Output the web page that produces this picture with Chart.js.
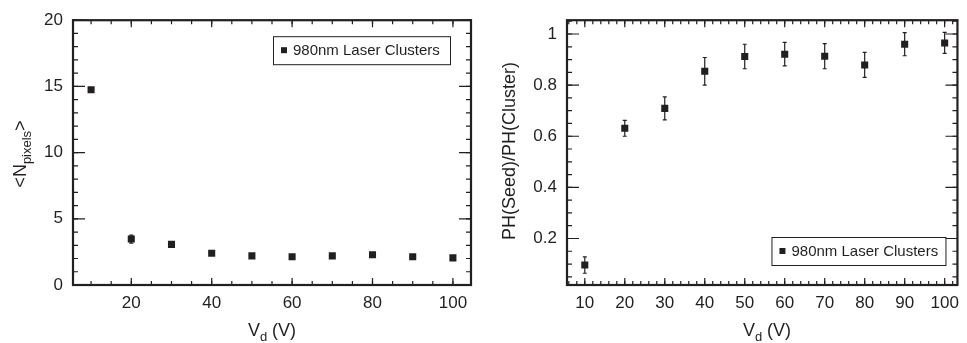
<!DOCTYPE html>
<html>
<head>
<meta charset="utf-8">
<script src="https://cdn.jsdelivr.net/npm/chart.js@4.4.1/dist/chart.umd.min.js"></script>
<style>
    body { margin: 0; background: #fff; }
    #wrap { position: relative; width: 967px; height: 343px; }
    #left-box { position: absolute; left: 0; top: 0; }
    #right-box { position: absolute; left: 480px; top: 0; }
</style>
</head>
<body>
<div id="wrap">
    <div id="left-box"><canvas id="left-chart" width="480" height="343"></canvas></div>
    <div id="right-box"><canvas id="right-chart" width="487" height="343"></canvas></div>
</div>
<script>
// data
const voltages = [10, 20, 30, 40, 50, 60, 70, 80, 90, 100];
const nPixels = [14.75, 3.47, 3.07, 2.4, 2.2, 2.13, 2.2, 2.28, 2.13, 2.05];
const nPixelsErr = [0, 0.3, 0, 0, 0, 0, 0, 0, 0, 0];
const phRatio = [0.096, 0.631, 0.709, 0.854, 0.912, 0.921, 0.913, 0.879, 0.960, 0.965];
const phRatioErr = [0.032, 0.031, 0.045, 0.054, 0.048, 0.046, 0.049, 0.049, 0.045, 0.041];
const leftXTicks = [20, 40, 60, 80, 100];
const leftYTicks = [0, 5, 10, 15, 20];
const rightXTicks = [10, 20, 30, 40, 50, 60, 70, 80, 90, 100];
const rightYTicks = [0.2, 0.4, 0.6, 0.8, 1];
const seriesLabel = '980nm Laser Clusters';

const ink = '#231f20';
const fontFamily = '"Liberation Sans", Arial, sans-serif';

// box around the plot plus inward major/minor ticks on all four sides
const frameTicks = {
    id: 'frameTicks',
    afterDraw(chart, args, o) {
        const { ctx, chartArea: a, scales: { x, y } } = chart;
        ctx.save();
        ctx.strokeStyle = ink;
        ctx.lineWidth = 1.2;
        const minorVals = (scale, step) => {
            const out = [];
            for (let i = Math.ceil(scale.min / step - 1e-9); i * step <= scale.max + 1e-9; i++) out.push(i * step);
            return out;
        };
        const xTick = (v, len) => {
            const px = x.getPixelForValue(v);
            ctx.beginPath();
            ctx.moveTo(px, a.bottom); ctx.lineTo(px, a.bottom - len);
            ctx.moveTo(px, a.top); ctx.lineTo(px, a.top + len);
            ctx.stroke();
        };
        const yTick = (v, len) => {
            const py = y.getPixelForValue(v);
            ctx.beginPath();
            ctx.moveTo(a.left, py); ctx.lineTo(a.left + len, py);
            ctx.moveTo(a.right, py); ctx.lineTo(a.right - len, py);
            ctx.stroke();
        };
        minorVals(x, o.xMinor).forEach(v => xTick(v, o.xMinorLen));
        minorVals(y, o.yMinor).forEach(v => yTick(v, o.yMinorLen));
        x.ticks.forEach(t => xTick(t.value, o.xMajorLen));
        y.ticks.forEach(t => yTick(t.value, o.yMajorLen));
        ctx.lineWidth = 2.2;
        ctx.strokeRect(a.left, a.top, a.right - a.left, a.bottom - a.top);
        ctx.restore();
    }
};

// vertical error bars with small caps
const errorBars = {
    id: 'errorBars',
    beforeDatasetsDraw(chart, args, o) {
        const { ctx, scales: { x, y } } = chart;
        const ds = chart.data.datasets[0];
        ctx.save();
        ctx.strokeStyle = ink;
        ctx.lineWidth = 1.2;
        ds.data.forEach((p, i) => {
            const e = o.errors[i];
            if (!e) return;
            const px = x.getPixelForValue(p.x);
            const top = y.getPixelForValue(p.y + e);
            const bot = y.getPixelForValue(p.y - e);
            ctx.beginPath();
            ctx.moveTo(px, top); ctx.lineTo(px, bot);
            ctx.moveTo(px - 2, top); ctx.lineTo(px + 2, top);
            ctx.moveTo(px - 2, bot); ctx.lineTo(px + 2, bot);
            ctx.stroke();
        });
        ctx.restore();
    }
};

// text with a subscript part, optionally rotated
function drawSubText(ctx, parts, cx, cy, rotate) {
    ctx.save();
    ctx.translate(cx, cy);
    if (rotate) ctx.rotate(-Math.PI / 2);
    ctx.fillStyle = ink;
    ctx.textBaseline = 'alphabetic';
    const mainFont = '18px ' + fontFamily;
    const subFont = '13px ' + fontFamily;
    let total = 0;
    parts.forEach(p => {
        ctx.font = p.sub ? subFont : mainFont;
        total += ctx.measureText(p.t).width;
    });
    let cur = -total / 2;
    parts.forEach(p => {
        ctx.font = p.sub ? subFont : mainFont;
        ctx.fillText(p.t, cur, p.sub ? 5 : 0);
        cur += ctx.measureText(p.t).width;
    });
    ctx.restore();
}

const axisTitles = {
    id: 'axisTitles',
    afterDraw(chart, args, o) {
        const ctx = chart.ctx;
        drawSubText(ctx, o.x.parts, o.x.cx, o.x.cy, false);
        drawSubText(ctx, o.y.parts, o.y.cx, o.y.cy, true);
    }
};

// legend box inside the plot
const boxLegend = {
    id: 'boxLegend',
    afterDraw(chart, args, o) {
        const { ctx, chartArea: a } = chart;
        const left = a.right - o.right - o.width;
        const top = o.top != null ? a.top + o.top : a.bottom - o.bottom - o.height;
        ctx.save();
        ctx.fillStyle = '#fff';
        ctx.fillRect(left, top, o.width, o.height);
        ctx.strokeStyle = ink;
        ctx.lineWidth = 1;
        ctx.strokeRect(left + 0.5, top + 0.5, o.width, o.height);
        ctx.fillStyle = ink;
        const cy = top + o.height / 2;
        ctx.fillRect(left + 8, cy - 3, 6, 6);
        ctx.font = '15px ' + fontFamily;
        ctx.textBaseline = 'middle';
        ctx.fillText(chart.data.datasets[0].label, left + 20, cy + 1);
        ctx.restore();
    }
};

function makeChart(id, ys, errs, cfg) {
    const tickFont = { family: fontFamily, size: 17 };
    return new Chart(document.getElementById(id), {
        type: 'scatter',
        data: {
            datasets: [{
                label: seriesLabel,
                data: voltages.map((v, i) => ({ x: v, y: ys[i] })),
                pointStyle: 'rect',
                pointRadius: 5,
                backgroundColor: ink,
                borderWidth: 0
            }]
        },
        options: {
            responsive: false,
            animation: false,
            layout: { padding: { top: 16, right: cfg.padRight, left: 0, bottom: 0 } },
            plugins: {
                legend: { display: false },
                tooltip: { enabled: false },
                frameTicks: cfg.frame,
                errorBars: { errors: errs },
                axisTitles: cfg.titles,
                boxLegend: cfg.legend
            },
            scales: {
                x: {
                    type: 'linear',
                    min: cfg.xMin, max: cfg.xMax,
                    grid: { display: false, drawTicks: false },
                    border: { display: false },
                    ticks: { font: tickFont, color: ink, padding: 8, autoSkip: false, maxRotation: 0,
                             callback: v => String(v) },
                    afterBuildTicks: s => { s.ticks = cfg.xTicks.map(v => ({ value: v })); },
                    afterFit: s => { s.height = 58; }
                },
                y: {
                    type: 'linear',
                    min: cfg.yMin, max: cfg.yMax,
                    grid: { display: false, drawTicks: false },
                    border: { display: false },
                    ticks: { font: tickFont, color: ink, padding: 10, autoSkip: false,
                             callback: v => String(v) },
                    afterBuildTicks: s => { s.ticks = cfg.yTicks.map(v => ({ value: v })); },
                    afterFit: s => { s.width = cfg.yWidth; }
                }
            }
        },
        plugins: [errorBars, frameTicks, axisTitles, boxLegend]
    });
}

makeChart('left-chart', nPixels, nPixelsErr, {
    padRight: 9, yWidth: 73,
    xMin: 5.5, xMax: 104.5, yMin: 0, yMax: 20,
    xTicks: leftXTicks, yTicks: leftYTicks,
    frame: { xMinor: 5, yMinor: 1, xMajorLen: 7, xMinorLen: 4, yMajorLen: 12, yMinorLen: 5 },
    titles: {
        x: { parts: [{ t: 'V' }, { t: 'd', sub: true }, { t: ' (V)' }], cx: 272, cy: 336 },
        y: { parts: [{ t: '<N' }, { t: 'pixels', sub: true }, { t: '>' }], cx: 26, cy: 154 }
    },
    legend: { right: 21, top: 16, width: 177, height: 28 }
});

makeChart('right-chart', phRatio, phRatioErr, {
    padRight: 3, yWidth: 87,
    xMin: 5.55, xMax: 103.2, yMin: 0.018, yMax: 1.054,
    xTicks: rightXTicks, yTicks: rightYTicks,
    frame: { xMinor: 2, yMinor: 0.05, xMajorLen: 7, xMinorLen: 4, yMajorLen: 12, yMinorLen: 5 },
    titles: {
        x: { parts: [{ t: 'V' }, { t: 'd', sub: true }, { t: ' (V)' }], cx: 287, cy: 336 },
        y: { parts: [{ t: 'PH(Seed)/PH(Cluster)' }], cx: 35, cy: 151 }
    },
    legend: { right: 12, bottom: 20, width: 174, height: 28 }
});
</script>
</body>
</html>
